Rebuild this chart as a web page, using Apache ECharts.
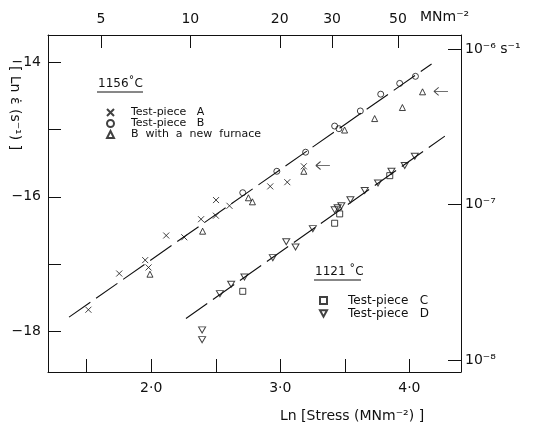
<!DOCTYPE html>
<html>
<head>
<meta charset="utf-8">
<script src="https://cdn.jsdelivr.net/npm/echarts@6/dist/echarts.min.js"></script>
<style>
  html, body { margin: 0; padding: 0; background: #fff; }
  #creep { width: 539px; height: 426px; }
</style>
</head>
<body>
<div id="creep"></div>
<script>
// ln(stress), ln(strain rate) pairs
var pieceA = [[1.513, -17.676], [1.752, -17.139], [1.953, -16.94], [1.979, -17.049],
    [2.116, -16.575], [2.256, -16.601], [2.386, -16.333], [2.501, -16.281],
    [2.502, -16.049], [2.606, -16.134], [2.922, -15.846], [3.054, -15.784], [3.182, -15.548]];
var pieceB = [[2.709, -15.94], [2.973, -15.622], [3.196, -15.339], [3.421, -14.951],
    [3.454, -14.99], [3.62, -14.727], [3.778, -14.478], [3.925, -14.318], [4.047, -14.213]];
var pieceBnew = [[1.99, -17.149], [2.398, -16.511], [2.753, -16.015], [2.784, -16.075],
    [3.182, -15.622], [3.498, -15.01], [3.731, -14.84], [3.946, -14.676], [4.102, -14.443]];
var pieceC = [[2.709, -17.403], [3.421, -16.393], [3.46, -16.254], [3.848, -15.687]];
var pieceD = [[2.394, -17.975], [2.394, -18.12], [2.532, -17.437], [2.619, -17.299],
    [2.722, -17.19], [2.942, -16.903], [3.046, -16.667], [3.118, -16.746], [3.252, -16.473],
    [3.421, -16.194], [3.444, -16.164], [3.473, -16.134], [3.543, -16.045], [3.654, -15.906],
    [3.757, -15.796], [3.861, -15.622], [3.964, -15.537], [4.042, -15.399]];
var arrowPts = [[3.33, -15.537], [4.245, -14.436]];

var fit1156 = [[1.363, -17.786], [4.172, -14.03]];
var fit1121 = [[2.269, -17.806], [4.275, -15.1]];

// axis ticks
var lnStressTicks = [1.5, 2.0, 2.5, 3.0, 3.5, 4.0];
var lnStressLabels = [2.0, 3.0, 4.0];
var lnRateTicks = [-18, -17, -16, -15, -14];
var lnRateLabels = [-18, -16, -14];
var stressTicks = [5, 10, 20, 30, 50];
var rateTicks = [1e-6, 1e-7, 1e-8];

(function(){

    var chart = echarts.init(document.getElementById("creep"));
    var font = 'DejaVu Sans';
    var ink = '#111';
    var sup = {'-': '\u207B', '1': '\u00B9', '2': '\u00B2', '6': '\u2076', '7': '\u2077', '8': '\u2078'};
    function toSup(s) {
        return String(s).split('').map(function(c){ return sup[c] || c; }).join('');
    }

    var axisCommon = {
        axisLine: { onZero: false, lineStyle: { color: ink, width: 1 } },
        axisTick: { inside: true, length: 13, lineStyle: { color: ink, width: 1 } },
        splitLine: { show: false },
        axisLabel: { color: ink, fontFamily: font, fontSize: 14 }
    };
    function axis(extra) {
        return echarts.util.merge(echarts.util.clone(axisCommon), extra, true);
    }

    var hollow = { color: 'rgba(0,0,0,0)', borderColor: ink, borderWidth: 1 };
    var crossPath = 'path://M0,0L10,10M10,0L0,10';
    var downTri = 'path://M0,0L10,0L5,9Z';
    var arrowPath = 'path://M0,5L18,5M0,5L6,1M0,5L6,9';

    function pts(name, data, symbol, size) {
        return {
            name: name, type: 'scatter', data: data,
            symbol: symbol, symbolSize: size,
            itemStyle: hollow, z: 3
        };
    }
    function fit(data) {
        return {
            type: 'line', data: data, showSymbol: false, silent: true,
            lineStyle: { color: ink, width: 1.1, type: [26, 7] }, z: 2
        };
    }

    option = {
        animation: false,
        backgroundColor: '#fff',
        grid: { left: 48, right: 78, top: 35, bottom: 54 },
        legend: [
            {
                data: ['Test-piece   A', 'Test-piece   B', 'B  with  a  new  furnace'],
                orient: 'vertical', left: 101, top: 102,
                itemGap: 0, itemWidth: 7, itemHeight: 7,
                textStyle: { fontFamily: font, fontSize: 11, lineHeight: 10, color: ink, padding: [0, 0, 0, 12] }
            },
            {
                data: ['Test-piece   C', 'Test-piece   D'],
                orient: 'vertical', left: 314, top: 289,
                itemGap: 0, itemWidth: 7, itemHeight: 7,
                textStyle: { fontFamily: font, fontSize: 12, lineHeight: 13, color: ink, padding: [0, 0, 0, 16] }
            }
        ],
        xAxis: [
            axis({
                type: 'value', position: 'bottom', min: 1.2, max: 4.4,
                axisTick: { customValues: lnStressTicks },
                axisLabel: {
                    customValues: lnStressLabels, margin: 9,
                    formatter: function (v) { return v.toFixed(1).replace('.', '\u00B7'); }
                }
            }),
            axis({
                type: 'value', position: 'top', min: 1.2, max: 4.4,
                axisTick: { customValues: stressTicks.map(Math.log) },
                axisLabel: {
                    customValues: stressTicks.map(Math.log), margin: 9,
                    formatter: function (v) { return Math.round(Math.exp(v)); }
                }
            })
        ],
        yAxis: [
            axis({
                type: 'value', position: 'left', min: -18.6, max: -13.6,
                axisTick: { customValues: lnRateTicks },
                axisLabel: {
                    customValues: lnRateLabels, margin: 7,
                    formatter: function (v) { return '\u2212' + Math.abs(v); }
                }
            }),
            axis({
                type: 'value', position: 'right', min: -18.6, max: -13.6,
                axisTick: { customValues: rateTicks.map(Math.log) },
                axisLabel: {
                    customValues: rateTicks.map(Math.log), margin: 4, align: 'left',
                    formatter: function (v) {
                        var e = Math.round(v / Math.LN10);
                        return '10' + toSup(e) + (e === -6 ? ' s' + toSup(-1) : '');
                    }
                }
            })
        ],
        graphic: [
            { type: 'text', left: 420, top: 10,
              style: { text: 'MNm' + toSup(-2), fontFamily: font, fontSize: 14, fill: ink } },
            { type: 'text', left: 280, top: 409,
              style: { text: 'Ln [Stress (MNm' + toSup(-2) + ') ]', fontFamily: font, fontSize: 14, fill: ink } },
            { type: 'text', x: 15, y: 108, rotation: -Math.PI / 2,
              style: { text: '[ Ln \u03B5\u0307 (s' + toSup(-1) + ') ]', fontFamily: font, fontSize: 14, fill: ink,
                       align: 'center', verticalAlign: 'middle' } },
            { type: 'text', left: 98, top: 78,
              style: { text: '1156\u02DAC', fontFamily: font, fontSize: 12, fill: ink } },
            { type: 'line', shape: { x1: 97, y1: 92, x2: 143, y2: 92 }, style: { stroke: ink, lineWidth: 1 } },
            { type: 'text', left: 315, top: 266,
              style: { text: '1121 \u02DAC', fontFamily: font, fontSize: 12, fill: ink } },
            { type: 'line', shape: { x1: 314, y1: 280, x2: 361, y2: 280 }, style: { stroke: ink, lineWidth: 1 } }
        ],
        series: [
            fit(fit1156),
            fit(fit1121),
            pts('Test-piece   A', pieceA, crossPath, 6),
            pts('Test-piece   B', pieceB, 'circle', 6),
            pts('B  with  a  new  furnace', pieceBnew, 'triangle', 6),
            pts('Test-piece   C', pieceC, 'rect', 6),
            pts('Test-piece   D', pieceD, downTri, [7, 6]),
            {
                type: 'scatter', data: arrowPts, symbol: arrowPath, symbolSize: [14, 8],
                itemStyle: hollow, silent: true
            }
        ]
    };

    chart.setOption(option);
})();
</script>
</body>
</html>
